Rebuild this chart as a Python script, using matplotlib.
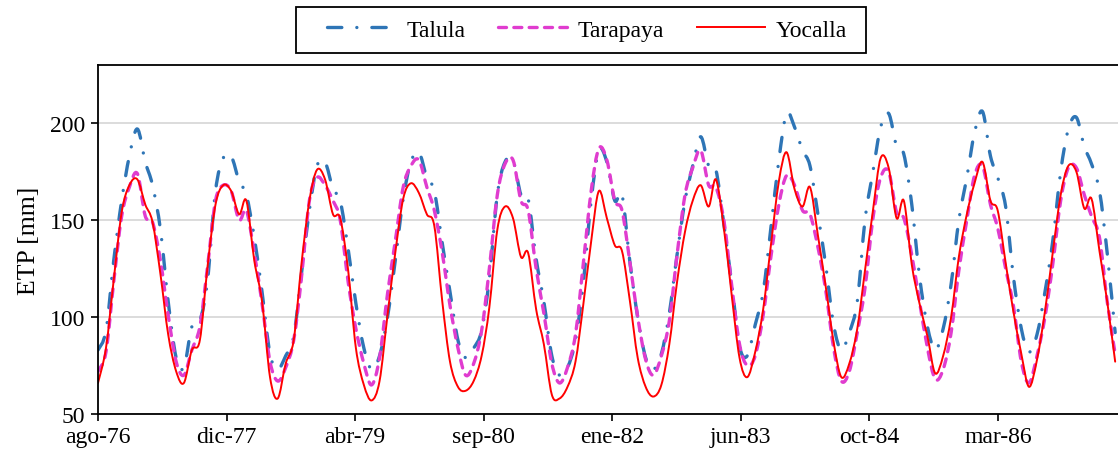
import numpy as np
import pandas as pd
import matplotlib
matplotlib.use("Agg")
import matplotlib.pyplot as plt
import matplotlib.dates as mdates
from matplotlib.path import Path
from matplotlib.patches import PathPatch, Rectangle
from matplotlib.lines import Line2D

# 数据：月度 ETP [mm]，1976年8月 - 1987年6月（每行 8月..7月）
fechas = pd.date_range("1976-08-01", periods=131, freq="MS")

talula = [
    83, 93, 129, 160, 183, 197, 180, 168, 145, 108, 79, 74,
    95, 98, 119, 165, 182, 183, 170, 163, 141, 113, 81, 73,
    80, 90, 122, 155, 178, 180, 166, 160, 135, 107, 84, 73,
    80, 100, 129, 161, 180, 185, 172, 165, 138, 113, 88, 79,
    84, 93, 120, 163, 180, 181, 163, 161, 130, 108, 80, 70,
    74, 88, 117, 160, 186, 180, 160, 163, 128, 100, 79, 73,
    81, 102, 132, 160, 178, 193, 178, 176, 148, 118, 85, 80,
    96, 113, 146, 181, 205, 198, 186, 178, 153, 127, 96, 83,
    92, 108, 150, 175, 198, 205, 188, 184, 158, 121, 95, 83,
    94, 117, 150, 172, 195, 206, 183, 172, 157, 121, 94, 82,
    91, 113, 139, 175, 197, 203, 188, 179, 165, 133, 92,
]
tarapaya = [
    72, 82, 118, 152, 167, 174, 152, 149, 129, 101, 77, 70,
    83, 95, 126, 160, 168, 165, 150, 155, 133, 107, 77, 67,
    74, 88, 120, 160, 172, 168, 160, 150, 118, 94, 76, 65,
    79, 112, 139, 167, 178, 181, 167, 155, 133, 106, 84, 70,
    76, 93, 125, 163, 179, 181, 160, 155, 125, 102, 76, 66,
    74, 91, 127, 165, 187, 181, 160, 155, 128, 100, 78, 70,
    80, 98, 132, 163, 177, 186, 168, 167, 150, 117, 86, 75,
    80, 101, 131, 158, 173, 168, 155, 153, 136, 114, 84, 67,
    72, 92, 115, 151, 172, 175, 154, 151, 132, 108, 84, 68,
    73, 92, 124, 150, 173, 178, 158, 146, 125, 106, 77, 66,
    80, 100, 127, 160, 177, 177, 163, 152, 141, 108, 81,
]
yocalla = [
    66, 84, 119, 154, 168, 171, 158, 149, 122, 91, 72, 66,
    83, 88, 126, 158, 168, 165, 153, 160, 129, 108, 69, 58,
    76, 88, 127, 160, 176, 171, 153, 151, 124, 84, 65, 57,
    67, 101, 133, 161, 169, 164, 153, 147, 108, 77, 64, 62,
    67, 80, 105, 145, 157, 151, 131, 133, 104, 86, 60, 58,
    64, 77, 106, 139, 165, 151, 137, 134, 108, 79, 64, 59,
    65, 86, 118, 144, 160, 168, 157, 171, 146, 112, 79, 69,
    82, 104, 137, 170, 185, 166, 157, 167, 142, 116, 87, 69,
    76, 94, 124, 155, 182, 177, 151, 160, 127, 107, 90, 71,
    80, 100, 131, 153, 169, 180, 160, 155, 128, 103, 81, 64,
    78, 103, 133, 163, 178, 175, 156, 161, 134, 108, 77,
]

xtick_labels = ["ago-76", "dic-77", "abr-79", "sep-80", "ene-82", "jun-83", "oct-84", "mar-86"]
yticks = [50, 100, 150, 200]


def curva_suave(x, y):
    # 平滑曲线（类似 Excel 的平滑线），贝塞尔控制点由相邻数据点求得
    x = np.asarray(x, float)
    y = np.asarray(y, float)
    n = len(x)
    verts = [(x[0], y[0])]
    codes = [Path.MOVETO]
    for i in range(n - 1):
        a = max(i - 1, 0)
        b = min(i + 2, n - 1)
        c1 = (x[i] + (x[i + 1] - x[a]) / 6, y[i] + (y[i + 1] - y[a]) / 6)
        c2 = (x[i + 1] - (x[b] - x[i]) / 6, y[i + 1] - (y[b] - y[i]) / 6)
        verts += [c1, c2, (x[i + 1], y[i + 1])]
        codes += [Path.CURVE4] * 3
    return Path(verts, codes)


plt.rcParams["font.family"] = ["Liberation Serif", "DejaVu Serif"]
plt.rcParams["font.size"] = 17

fig = plt.figure(figsize=(11.18, 4.6), dpi=100)
ax = fig.add_axes([98 / 1118, 1 - 415 / 460, 1 - 98 / 1118, (415 - 66) / 460])

xnum = mdates.date2num(fechas)
estilos = [
    ("Talula", talula, dict(color="#2E75B6", lw=2.4, dashes=(4.3, 4.5, 0.01, 4.5))),
    ("Tarapaya", tarapaya, dict(color="#E03CCF", lw=2.4, dashes=(2.4, 2.2))),
    ("Yocalla", yocalla, dict(color="#FF0000", lw=1.4, dashes=None)),
]
handles = []
for nombre, serie, st in estilos:
    ls = "-" if st["dashes"] is None else (0, st["dashes"])
    patch = PathPatch(curva_suave(xnum, serie), fill=False, edgecolor=st["color"],
                      lw=st["lw"], linestyle=ls, capstyle="round", joinstyle="round")
    ax.add_patch(patch)
    h = Line2D([], [], color=st["color"], lw=st["lw"], dash_capstyle="round")
    if st["dashes"] is not None:
        h.set_dashes(st["dashes"])
    handles.append(h)

inicio = pd.Timestamp("1976-08-01")
ax.set_xlim(inicio, inicio + pd.Timedelta(days=3967))
ax.set_ylim(50, 230)
ax.set_xticks([inicio + pd.Timedelta(days=500 * k) for k in range(len(xtick_labels))])
ax.set_xticklabels(xtick_labels)
ax.set_yticks(yticks)
ax.set_ylabel("ETP [mm]", fontsize=18.5, labelpad=7)

ax.grid(axis="y", color="#D9D9D9", lw=1.3)
ax.set_axisbelow(True)
ax.spines["right"].set_visible(False)
for s in ["left", "bottom", "top"]:
    ax.spines[s].set_linewidth(1.3)
ax.tick_params(direction="out", length=5, width=1.2, pad=4)

# 图例（上方居中，带黑框）
fig.legend(handles, [e[0] for e in estilos], loc="center", bbox_to_anchor=(587 / 1118, 1 - 31 / 460),
           ncol=3, frameon=False, handlelength=2.9, handletextpad=0.45,
           columnspacing=1.4, fontsize=17)
fig.add_artist(Rectangle((296 / 1118, 1 - 54 / 460), 570 / 1118, 46 / 460,
                         transform=fig.transFigure, fill=False, edgecolor="black", lw=1.3))

fig.savefig("out.png", dpi=100)
